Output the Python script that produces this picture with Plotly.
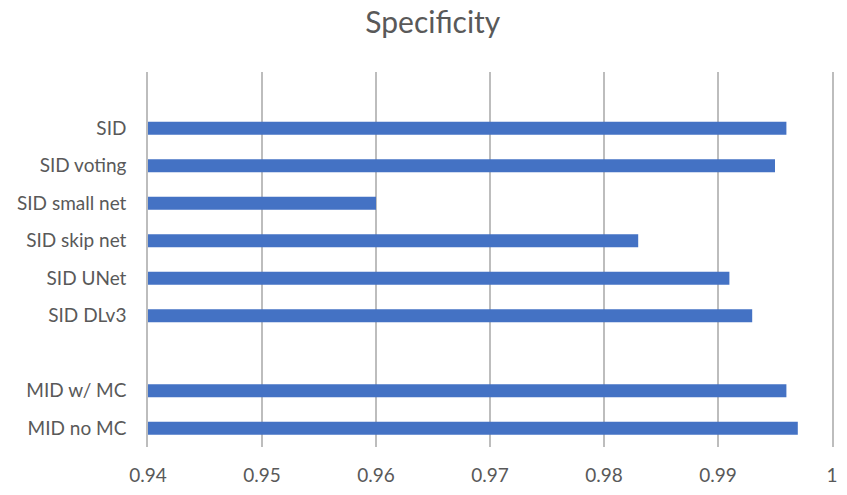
import plotly.graph_objects as go

# Categories listed top to bottom; blank strings are empty rows in the chart
categories = ["", "SID", "SID voting", "SID small net", "SID skip net",
              "SID UNet", "SID DLv3", " ", "MID w/ MC", "MID no MC"]
specificity = [None, 0.996, 0.995, 0.960, 0.983, 0.991, 0.993, None, 0.996, 0.997]
x_ticks = [0.94, 0.95, 0.96, 0.97, 0.98, 0.99, 1.0]
x_tick_labels = ["0.94", "0.95", "0.96", "0.97", "0.98", "0.99", "1"]

font_family = "Lato, 'Open Sans', sans-serif"
text_color = "#595959"
grid_color = "#BDBDBD"

fig = go.Figure(
    go.Bar(
        x=specificity,
        y=categories,
        orientation="h",
        marker=dict(color="#4472C4", line=dict(width=0)),
        base=0,
    )
)

fig.update_layout(
    width=847,
    height=495,
    margin=dict(l=148, r=9, t=72, b=45),
    paper_bgcolor="white",
    plot_bgcolor="white",
    bargap=0.655,
    showlegend=False,
    title=dict(
        text="Specificity",
        x=0.511,
        xanchor="center",
        xref="container",
        y=0.955,
        yanchor="middle",
        yref="container",
        font=dict(family=font_family, size=30, color=text_color),
    ),
    font=dict(family=font_family, size=19, color=text_color),
)

fig.update_xaxes(
    range=[0.94, 1.0],
    tickvals=x_ticks,
    ticktext=x_tick_labels,
    showgrid=True,
    gridcolor=grid_color,
    gridwidth=1.5,
    zeroline=False,
    showline=False,
    ticks="",
    ticklabelstandoff=15,
    tickfont=dict(size=19, color=text_color),
)

# The y axis line (mirrored) supplies the gridlines at the 0.94 and 1 edges
fig.update_yaxes(
    type="category",
    categoryorder="array",
    categoryarray=categories,
    autorange="reversed",
    showgrid=False,
    zeroline=False,
    showline=True,
    linecolor=grid_color,
    linewidth=1.5,
    mirror=True,
    ticks="",
    ticklabelstandoff=16,
    tickfont=dict(size=19, color=text_color),
)

fig.write_html("out.html")
